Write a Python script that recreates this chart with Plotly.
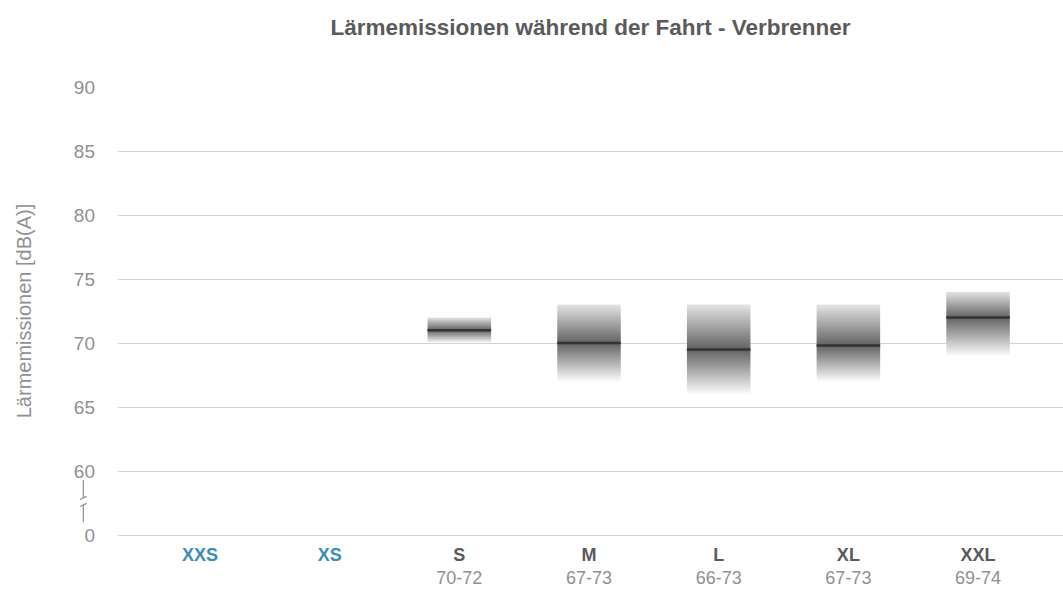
import plotly.graph_objects as go

# Vehicle size classes and their measured noise ranges in dB(A)
categories = ["XXS", "XS", "S", "M", "L", "XL", "XXL"]
range_labels = ["", "", "70-72", "67-73", "66-73", "67-73", "69-74"]
low_values = [None, None, 70, 67, 66, 67, 69]
high_values = [None, None, 72, 73, 73, 73, 74]
median_values = [None, None, 71, 70, 69.5, 69.8, 72]

# y-axis: broken scale, "0" sits one step below 60
y_tick_values = [55, 60, 65, 70, 75, 80, 85, 90]
y_tick_text = ["0", "60", "65", "70", "75", "80", "85", "90"]

BAR_WIDTH = 0.49
GRID = "#d4d4d4"
LABEL_GREY = "#909090"
BLUE = "#3b8db3"

fig = go.Figure()

for i, (lo, hi, med) in enumerate(zip(low_values, high_values, median_values)):
    if lo is None:
        continue
    x0, x1 = i - BAR_WIDTH / 2, i + BAR_WIDTH / 2
    frac = (med - lo) / (hi - lo)
    fig.add_trace(go.Scatter(
        x=[x0, x1, x1, x0, x0],
        y=[lo, lo, hi, hi, lo],
        mode="lines",
        line=dict(width=0),
        fill="toself",
        fillgradient=dict(
            type="vertical",
            colorscale=[
                [0, "rgb(252,252,252)"],
                [frac, "rgb(98,98,98)"],
                [1, "rgb(228,228,228)"],
            ],
        ),
        hoverinfo="skip",
        showlegend=False,
    ))
    fig.add_trace(go.Scatter(
        x=[x0, x1],
        y=[med, med],
        mode="lines",
        line=dict(color="#333333", width=2.5),
        showlegend=False,
    ))

tick_text = []
for cat, rng in zip(categories, range_labels):
    color = BLUE if rng == "" else "#5a5a5a"
    label = f"<b><span style='color:{color}'>{cat}</span></b>"
    label += f"<br><span style='color:{LABEL_GREY};font-size:18px'>{rng if rng else ' '}</span>"
    tick_text.append(label)

fig.update_xaxes(
    range=[-0.632, 6.655],
    tickvals=list(range(len(categories))),
    ticktext=tick_text,
    showgrid=False,
    zeroline=False,
    showline=True,
    linecolor=GRID,
    linewidth=1,
    ticks="",
    ticklabelstandoff=3,
    tickfont=dict(family="Liberation Sans", size=18),
)

fig.update_yaxes(
    range=[55, 90],
    tickvals=y_tick_values,
    ticktext=y_tick_text,
    showgrid=True,
    gridcolor=GRID,
    gridwidth=1,
    zeroline=False,
    ticks="",
    ticklabelstandoff=22,
    tickfont=dict(family="Liberation Sans", size=19, color=LABEL_GREY),
    title=dict(
        text="Lärmemissionen [dB(A)]",
        font=dict(family="Liberation Sans", size=20, color=LABEL_GREY),
        standoff=36,
    ),
)

# axis-break marker between "60" and "0"
bx = -0.0367
for y0, y1 in [(59.3, 57.9), (57.35, 56.0)]:
    fig.add_shape(type="line", xref="paper", yref="y", x0=bx, x1=bx, y0=y0, y1=y1,
                  line=dict(color=LABEL_GREY, width=1.2))
for yc in [57.9, 57.35]:
    fig.add_shape(type="line", xref="paper", yref="y", x0=bx - 0.0035, x1=bx + 0.0035,
                  y0=yc - 0.12, y1=yc + 0.12, line=dict(color=LABEL_GREY, width=1.2))

fig.update_layout(
    width=1063,
    height=589,
    margin=dict(l=118, r=0, t=87, b=54),
    plot_bgcolor="white",
    paper_bgcolor="white",
    title=dict(
        text="<b>Lärmemissionen während der Fahrt - Verbrenner</b>",
        x=0.5,
        xref="paper",
        y=1 - 27 / 589,
        yanchor="middle",
        font=dict(family="Liberation Sans", size=22.5, color="#5a5a5a"),
    ),
    showlegend=False,
)

fig.write_html("out.html")
